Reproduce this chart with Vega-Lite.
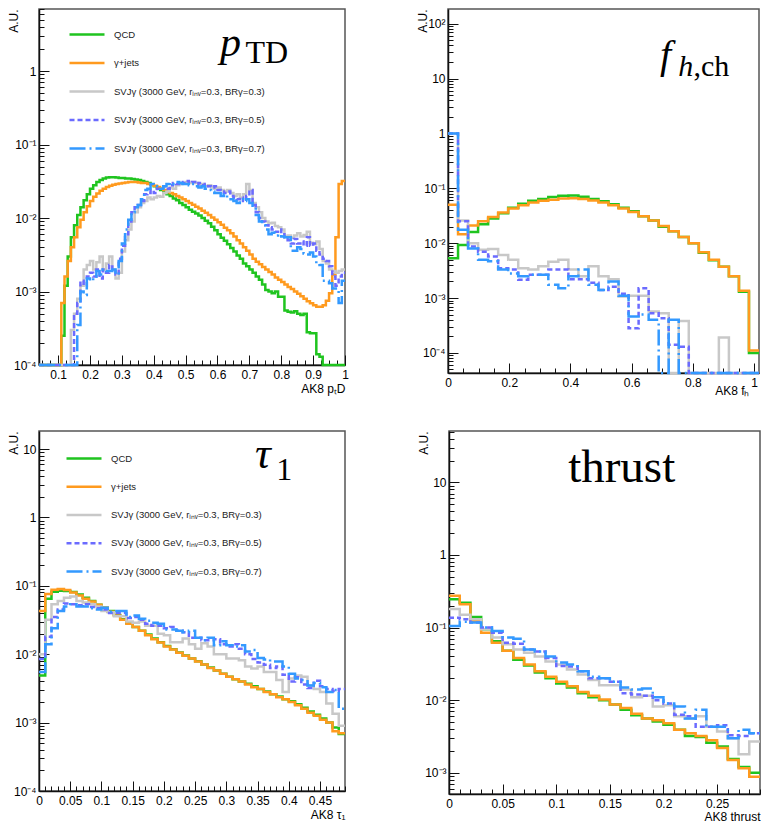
{
"$schema": "https://vega.github.io/schema/vega-lite/v6.json",
"padding": {"left": 6, "top": 2, "right": 0, "bottom": 0},
"background": "white",
"config": {
  "view": {"stroke": "#555", "strokeWidth": 1.5},
  "axis": {"grid": false, "labelFont": "Liberation Sans", "labelFontSize": 12, "labelColor": "#000", "titleFont": "Liberation Sans", "titleFontSize": 12, "titleFontWeight": "normal", "titleColor": "#000", "domainColor": "#111", "domainWidth": 1.5, "tickColor": "#111", "tickWidth": 1, "labelFlush": false, "labelOverlap": false, "labelBound": false},
  "axisX": {"titleAnchor": "end", "titleAlign": "right", "titlePadding": 1, "labelPadding": 14},
  "axisY": {"titleX": -26, "titleY": 0, "titleAlign": "right", "titleAngle": -90, "titleBaseline": "middle", "labelPadding": 13}
},
"datasets": {
"ptd": [
{"x":0.04,"a":0.0001,"b":0.0001,"c":0.0001,"d":0.0001,"e":0.0001},
{"x":0.05,"a":0.0001,"b":0.0001,"c":0.0001,"d":0.0001,"e":0.0001},
{"x":0.06,"a":0.0001,"b":0.0001,"c":0.0001,"d":0.0001,"e":0.0001},
{"x":0.07,"a":0.0001,"b":0.0001,"c":0.0001,"d":0.0001,"e":0.0001},
{"x":0.08,"a":0.0001,"b":0.0001,"c":0.0001,"d":0.0001,"e":0.0001},
{"x":0.09,"a":0.0001,"b":0.0001,"c":0.0001,"d":0.0001,"e":0.0001},
{"x":0.10,"a":0.0001,"b":0.0001,"c":0.0001,"d":0.0001,"e":0.0001},
{"x":0.11,"a":0.00025,"b":0.0007,"c":0.0001,"d":0.0001,"e":0.0001},
{"x":0.12,"a":0.0012,"b":0.0016,"c":0.0001,"d":0.0001,"e":0.0001},
{"x":0.13,"a":0.003,"b":0.0026,"c":0.0001,"d":0.0001,"e":0.0001},
{"x":0.14,"a":0.0055,"b":0.004,"c":0.0003,"d":0.0001,"e":0.0001},
{"x":0.15,"a":0.008,"b":0.0055,"c":0.0005,"d":0.0005,"e":0.0001},
{"x":0.16,"a":0.011,"b":0.0075,"c":0.0008,"d":0.0007,"e":0.00035},
{"x":0.17,"a":0.014,"b":0.0095,"c":0.0012,"d":0.0014,"e":0.001},
{"x":0.18,"a":0.0175,"b":0.012,"c":0.002,"d":0.0012,"e":0.0009},
{"x":0.19,"a":0.021,"b":0.0145,"c":0.0023,"d":0.0016,"e":0.0015},
{"x":0.20,"a":0.025,"b":0.017,"c":0.0026,"d":0.0018,"e":0.0014},
{"x":0.21,"a":0.028,"b":0.0195,"c":0.002,"d":0.0016,"e":0.0016},
{"x":0.22,"a":0.031,"b":0.0215,"c":0.0025,"d":0.002,"e":0.0019},
{"x":0.23,"a":0.033,"b":0.0235,"c":0.003,"d":0.0015,"e":0.0017},
{"x":0.24,"a":0.0345,"b":0.025,"c":0.002,"d":0.002,"e":0.002},
{"x":0.25,"a":0.0355,"b":0.0265,"c":0.0024,"d":0.0018,"e":0.0019},
{"x":0.26,"a":0.036,"b":0.0275,"c":0.003,"d":0.0023,"e":0.0019},
{"x":0.27,"a":0.036,"b":0.0285,"c":0.002,"d":0.0019,"e":0.002},
{"x":0.28,"a":0.0355,"b":0.029,"c":0.0015,"d":0.0017,"e":0.0017},
{"x":0.29,"a":0.035,"b":0.0295,"c":0.0018,"d":0.0028,"e":0.0026},
{"x":0.30,"a":0.035,"b":0.03,"c":0.0035,"d":0.0042,"e":0.0045},
{"x":0.31,"a":0.0345,"b":0.0305,"c":0.005,"d":0.006,"e":0.007},
{"x":0.32,"a":0.0345,"b":0.031,"c":0.007,"d":0.009,"e":0.0095},
{"x":0.33,"a":0.034,"b":0.031,"c":0.009,"d":0.012,"e":0.012},
{"x":0.34,"a":0.0335,"b":0.031,"c":0.012,"d":0.014,"e":0.014},
{"x":0.35,"a":0.033,"b":0.0305,"c":0.014,"d":0.015,"e":0.015},
{"x":0.36,"a":0.032,"b":0.03,"c":0.016,"d":0.017,"e":0.018},
{"x":0.37,"a":0.031,"b":0.03,"c":0.017,"d":0.021,"e":0.024},
{"x":0.38,"a":0.03,"b":0.029,"c":0.019,"d":0.022,"e":0.025},
{"x":0.39,"a":0.0285,"b":0.0285,"c":0.018,"d":0.024,"e":0.029},
{"x":0.40,"a":0.027,"b":0.0275,"c":0.019,"d":0.022,"e":0.027},
{"x":0.41,"a":0.0255,"b":0.0265,"c":0.02,"d":0.025,"e":0.026},
{"x":0.42,"a":0.024,"b":0.025,"c":0.0195,"d":0.026,"e":0.025},
{"x":0.43,"a":0.0225,"b":0.024,"c":0.022,"d":0.027,"e":0.027},
{"x":0.44,"a":0.021,"b":0.023,"c":0.023,"d":0.025,"e":0.029},
{"x":0.45,"a":0.02,"b":0.022,"c":0.026,"d":0.028,"e":0.03},
{"x":0.46,"a":0.0185,"b":0.021,"c":0.025,"d":0.03,"e":0.029},
{"x":0.47,"a":0.0175,"b":0.02,"c":0.028,"d":0.029,"e":0.031},
{"x":0.48,"a":0.016,"b":0.019,"c":0.029,"d":0.031,"e":0.03},
{"x":0.49,"a":0.015,"b":0.018,"c":0.03,"d":0.03,"e":0.029},
{"x":0.50,"a":0.014,"b":0.017,"c":0.031,"d":0.032,"e":0.029},
{"x":0.51,"a":0.013,"b":0.016,"c":0.03,"d":0.03,"e":0.028},
{"x":0.52,"a":0.0122,"b":0.0152,"c":0.031,"d":0.031,"e":0.029},
{"x":0.53,"a":0.0115,"b":0.0143,"c":0.03,"d":0.029,"e":0.027},
{"x":0.54,"a":0.0108,"b":0.0135,"c":0.028,"d":0.03,"e":0.026},
{"x":0.55,"a":0.01,"b":0.0126,"c":0.029,"d":0.028,"e":0.027},
{"x":0.56,"a":0.0092,"b":0.0118,"c":0.027,"d":0.029,"e":0.025},
{"x":0.57,"a":0.0085,"b":0.011,"c":0.028,"d":0.027,"e":0.024},
{"x":0.58,"a":0.0076,"b":0.0102,"c":0.026,"d":0.026,"e":0.023},
{"x":0.59,"a":0.0068,"b":0.0095,"c":0.025,"d":0.027,"e":0.022},
{"x":0.60,"a":0.006,"b":0.0088,"c":0.026,"d":0.024,"e":0.022},
{"x":0.61,"a":0.0054,"b":0.0081,"c":0.024,"d":0.023,"e":0.02},
{"x":0.62,"a":0.0049,"b":0.0074,"c":0.023,"d":0.022,"e":0.021},
{"x":0.63,"a":0.0044,"b":0.0068,"c":0.024,"d":0.023,"e":0.018},
{"x":0.64,"a":0.0039,"b":0.0062,"c":0.022,"d":0.02,"e":0.018},
{"x":0.65,"a":0.0035,"b":0.0056,"c":0.02,"d":0.019,"e":0.017},
{"x":0.66,"a":0.0031,"b":0.005,"c":0.021,"d":0.018,"e":0.016},
{"x":0.67,"a":0.0028,"b":0.0045,"c":0.019,"d":0.019,"e":0.018},
{"x":0.68,"a":0.0024,"b":0.004,"c":0.021,"d":0.017,"e":0.017},
{"x":0.69,"a":0.0022,"b":0.0036,"c":0.029,"d":0.02,"e":0.018},
{"x":0.70,"a":0.002,"b":0.0032,"c":0.024,"d":0.024,"e":0.016},
{"x":0.71,"a":0.0018,"b":0.0028,"c":0.016,"d":0.015,"e":0.014},
{"x":0.72,"a":0.0016,"b":0.00255,"c":0.014,"d":0.012,"e":0.011},
{"x":0.73,"a":0.00145,"b":0.00235,"c":0.012,"d":0.01,"e":0.009},
{"x":0.74,"a":0.00125,"b":0.00215,"c":0.01,"d":0.009,"e":0.008},
{"x":0.75,"a":0.00105,"b":0.002,"c":0.009,"d":0.008,"e":0.007},
{"x":0.76,"a":0.001,"b":0.00185,"c":0.0085,"d":0.0075,"e":0.006},
{"x":0.77,"a":0.00095,"b":0.0017,"c":0.0086,"d":0.007,"e":0.0063},
{"x":0.78,"a":0.001,"b":0.00155,"c":0.0078,"d":0.0065,"e":0.0058},
{"x":0.79,"a":0.00085,"b":0.00145,"c":0.0075,"d":0.007,"e":0.006},
{"x":0.80,"a":0.00085,"b":0.00135,"c":0.007,"d":0.006,"e":0.0056},
{"x":0.81,"a":0.00055,"b":0.00125,"c":0.0056,"d":0.0055,"e":0.0055},
{"x":0.82,"a":0.00053,"b":0.00115,"c":0.0058,"d":0.005,"e":0.0055},
{"x":0.83,"a":0.00052,"b":0.00108,"c":0.0054,"d":0.0045,"e":0.0036},
{"x":0.84,"a":0.00054,"b":0.001,"c":0.0058,"d":0.0052,"e":0.0036},
{"x":0.85,"a":0.0005,"b":0.00093,"c":0.0062,"d":0.0045,"e":0.004},
{"x":0.86,"a":0.00048,"b":0.00086,"c":0.0056,"d":0.0048,"e":0.0038},
{"x":0.87,"a":0.0005,"b":0.0008,"c":0.0059,"d":0.0042,"e":0.0033},
{"x":0.88,"a":0.00028,"b":0.00074,"c":0.0065,"d":0.0055,"e":0.0032},
{"x":0.89,"a":0.00027,"b":0.00069,"c":0.0046,"d":0.0042,"e":0.0034},
{"x":0.90,"a":0.00027,"b":0.00065,"c":0.0044,"d":0.0045,"e":0.003},
{"x":0.91,"a":0.00014,"b":0.00062,"c":0.0048,"d":0.0036,"e":0.0024},
{"x":0.92,"a":0.00013,"b":0.00062,"c":0.0038,"d":0.0032,"e":0.0023},
{"x":0.93,"a":0.0001,"b":0.00065,"c":0.0026,"d":0.0028,"e":0.0014},
{"x":0.94,"a":0.0001,"b":0.00075,"c":0.0024,"d":0.0026,"e":0.0014},
{"x":0.95,"a":0.0001,"b":0.00095,"c":0.002,"d":0.0022,"e":0.0013},
{"x":0.96,"a":0.0001,"b":0.0017,"c":0.0019,"d":0.0016,"e":0.0011},
{"x":0.97,"a":0.0001,"b":0.0055,"c":0.0018,"d":0.0012,"e":0.0011},
{"x":0.98,"a":0.0001,"b":0.029,"c":0.0019,"d":0.0016,"e":0.0007},
{"x":0.99,"a":0.0001,"b":0.032,"c":0.002,"d":0.0018,"e":0.0014},
{"x":1.00,"a":0.0001,"b":0.032,"c":0.002,"d":0.0018,"e":0.0014}
],
"fh": [
{"x":0,"a":0.0053,"b":0.05,"c":1,"d":1,"e":1},
{"x":0.0328,"a":0.0093,"b":0.0145,"c":0.026,"d":0.025,"e":0.0175},
{"x":0.0655,"a":0.016,"b":0.021,"c":0.01,"d":0.0087,"e":0.008},
{"x":0.0983,"a":0.022,"b":0.025,"c":0.0076,"d":0.007,"e":0.005},
{"x":0.1311,"a":0.028,"b":0.03,"c":0.0078,"d":0.0057,"e":0.0047},
{"x":0.1639,"a":0.035,"b":0.036,"c":0.0061,"d":0.0035,"e":0.0033},
{"x":0.1966,"a":0.044,"b":0.043,"c":0.005,"d":0.0033,"e":0.0028},
{"x":0.2294,"a":0.052,"b":0.049,"c":0.0035,"d":0.00215,"e":0.0025},
{"x":0.2622,"a":0.059,"b":0.055,"c":0.0033,"d":0.00265,"e":0.00265},
{"x":0.2950,"a":0.064,"b":0.059,"c":0.0038,"d":0.00265,"e":0.00265},
{"x":0.3277,"a":0.069,"b":0.062,"c":0.0046,"d":0.0033,"e":0.00175},
{"x":0.3605,"a":0.073,"b":0.065,"c":0.005,"d":0.0033,"e":0.0015},
{"x":0.3933,"a":0.074,"b":0.066,"c":0.0033,"d":0.0022,"e":0.0025},
{"x":0.4261,"a":0.07,"b":0.064,"c":0.0025,"d":0.0022,"e":0.0033},
{"x":0.4588,"a":0.064,"b":0.06,"c":0.0038,"d":0.0019,"e":0.00175},
{"x":0.4916,"a":0.058,"b":0.055,"c":0.0025,"d":0.0014,"e":0.0014},
{"x":0.5244,"a":0.051,"b":0.049,"c":0.0022,"d":0.0016,"e":0.002},
{"x":0.5572,"a":0.044,"b":0.043,"c":0.00107,"d":0.0012,"e":0.0011},
{"x":0.5899,"a":0.038,"b":0.037,"c":0.0011,"d":0.00028,"e":0.00046},
{"x":0.6227,"a":0.031,"b":0.031,"c":0.0011,"d":0.0015,"e":0.0005},
{"x":0.6555,"a":0.026,"b":0.026,"c":0.00057,"d":0.00053,"e":0.0004},
{"x":0.6883,"a":0.02,"b":0.0205,"c":0.00053,"d":0.00043,"e":0.000043},
{"x":0.7210,"a":0.0165,"b":0.0165,"c":0.000043,"d":0.00014,"e":0.0004},
{"x":0.7538,"a":0.013,"b":0.013,"c":0.00038,"d":0.00013,"e":0.000043},
{"x":0.7866,"a":0.01,"b":0.01,"c":0.000043,"d":0.000043,"e":0.000043},
{"x":0.8194,"a":0.0067,"b":0.0068,"c":0.000043,"d":0.000043,"e":0.000043},
{"x":0.8521,"a":0.0049,"b":0.005,"c":0.000043,"d":0.000043,"e":0.000043},
{"x":0.8849,"a":0.0037,"b":0.0037,"c":0.00019,"d":0.000043,"e":0.000043},
{"x":0.9177,"a":0.0025,"b":0.0025,"c":0.000043,"d":0.000043,"e":0.000043},
{"x":0.9505,"a":0.0013,"b":0.00135,"c":0.000043,"d":0.000043,"e":0.000043},
{"x":0.9832,"a":0.0001,"b":0.00011,"c":0.000043,"d":0.000043,"e":0.000043},
{"x":1.016,"a":0.0001,"b":0.00011,"c":0.000043,"d":0.000043,"e":0.000043}
],
"tau": [
{"x":0.00,"a":0.0049,"b":0.043,"c":0.01,"d":0.0085,"e":0.0055},
{"x":0.01,"a":0.065,"b":0.076,"c":0.032,"d":0.018,"e":0.014},
{"x":0.02,"a":0.082,"b":0.088,"c":0.054,"d":0.035,"e":0.024},
{"x":0.03,"a":0.085,"b":0.09,"c":0.06,"d":0.045,"e":0.043},
{"x":0.04,"a":0.084,"b":0.087,"c":0.067,"d":0.055,"e":0.05},
{"x":0.05,"a":0.081,"b":0.08,"c":0.07,"d":0.054,"e":0.054},
{"x":0.06,"a":0.075,"b":0.072,"c":0.06,"d":0.052,"e":0.05},
{"x":0.07,"a":0.067,"b":0.065,"c":0.057,"d":0.054,"e":0.05},
{"x":0.08,"a":0.06,"b":0.059,"c":0.054,"d":0.049,"e":0.047},
{"x":0.09,"a":0.053,"b":0.053,"c":0.05,"d":0.047,"e":0.045},
{"x":0.10,"a":0.048,"b":0.048,"c":0.043,"d":0.045,"e":0.048},
{"x":0.11,"a":0.043,"b":0.042,"c":0.041,"d":0.04,"e":0.042},
{"x":0.12,"a":0.0375,"b":0.037,"c":0.036,"d":0.04,"e":0.043},
{"x":0.13,"a":0.0325,"b":0.032,"c":0.036,"d":0.04,"e":0.043},
{"x":0.14,"a":0.0285,"b":0.028,"c":0.03,"d":0.034,"e":0.035},
{"x":0.15,"a":0.025,"b":0.025,"c":0.029,"d":0.035,"e":0.037},
{"x":0.16,"a":0.022,"b":0.022,"c":0.03,"d":0.032,"e":0.033},
{"x":0.17,"a":0.0195,"b":0.019,"c":0.026,"d":0.028,"e":0.031},
{"x":0.18,"a":0.017,"b":0.0166,"c":0.026,"d":0.026,"e":0.029},
{"x":0.19,"a":0.015,"b":0.0148,"c":0.02,"d":0.026,"e":0.028},
{"x":0.20,"a":0.0132,"b":0.013,"c":0.019,"d":0.024,"e":0.023},
{"x":0.21,"a":0.0118,"b":0.0117,"c":0.015,"d":0.025,"e":0.023},
{"x":0.22,"a":0.0106,"b":0.0105,"c":0.015,"d":0.022,"e":0.022},
{"x":0.23,"a":0.0096,"b":0.0095,"c":0.017,"d":0.021,"e":0.021},
{"x":0.24,"a":0.0087,"b":0.0087,"c":0.014,"d":0.0175,"e":0.022},
{"x":0.25,"a":0.0079,"b":0.0078,"c":0.012,"d":0.0175,"e":0.0175},
{"x":0.26,"a":0.0071,"b":0.0071,"c":0.0145,"d":0.016,"e":0.016},
{"x":0.27,"a":0.0064,"b":0.0063,"c":0.013,"d":0.016,"e":0.0175},
{"x":0.28,"a":0.0058,"b":0.0058,"c":0.01,"d":0.0165,"e":0.0135},
{"x":0.29,"a":0.0052,"b":0.0052,"c":0.01,"d":0.014,"e":0.0155},
{"x":0.30,"a":0.0047,"b":0.0047,"c":0.0087,"d":0.013,"e":0.0135},
{"x":0.31,"a":0.0043,"b":0.0043,"c":0.0087,"d":0.014,"e":0.013},
{"x":0.32,"a":0.004,"b":0.004,"c":0.0082,"d":0.012,"e":0.0135},
{"x":0.33,"a":0.0037,"b":0.0036,"c":0.0066,"d":0.01,"e":0.011},
{"x":0.34,"a":0.0034,"b":0.0033,"c":0.0062,"d":0.0085,"e":0.0115},
{"x":0.35,"a":0.0031,"b":0.0031,"c":0.0066,"d":0.0076,"e":0.0088},
{"x":0.36,"a":0.00285,"b":0.0028,"c":0.0055,"d":0.007,"e":0.0084},
{"x":0.37,"a":0.0026,"b":0.0026,"c":0.0055,"d":0.0063,"e":0.0078},
{"x":0.38,"a":0.0024,"b":0.00235,"c":0.0042,"d":0.0066,"e":0.0078},
{"x":0.39,"a":0.0022,"b":0.0022,"c":0.0028,"d":0.005,"e":0.0066},
{"x":0.40,"a":0.00205,"b":0.002,"c":0.0044,"d":0.004,"e":0.0052},
{"x":0.41,"a":0.00185,"b":0.0018,"c":0.0049,"d":0.0046,"e":0.0044},
{"x":0.42,"a":0.00165,"b":0.0016,"c":0.0047,"d":0.0036,"e":0.0042},
{"x":0.43,"a":0.00145,"b":0.0014,"c":0.0035,"d":0.0032,"e":0.0035},
{"x":0.44,"a":0.0013,"b":0.00126,"c":0.0031,"d":0.0041,"e":0.0038},
{"x":0.45,"a":0.00115,"b":0.0011,"c":0.0028,"d":0.0034,"e":0.0033},
{"x":0.46,"a":0.001,"b":0.001,"c":0.0019,"d":0.0031,"e":0.0028},
{"x":0.47,"a":0.00085,"b":0.00075,"c":0.00135,"d":0.0029,"e":0.003},
{"x":0.48,"a":0.00068,"b":0.0007,"c":0.0009,"d":0.0031,"e":0.0016},
{"x":0.49,"a":0.00068,"b":0.0007,"c":0.0009,"d":0.0031,"e":0.0016}
],
"thr": [
{"x":0.00,"a":0.245,"b":0.275,"c":0.18,"d":0.137,"e":0.105},
{"x":0.01,"a":0.22,"b":0.21,"c":0.15,"d":0.13,"e":0.12},
{"x":0.02,"a":0.14,"b":0.124,"c":0.13,"d":0.117,"e":0.117},
{"x":0.03,"a":0.095,"b":0.085,"c":0.095,"d":0.1,"e":0.1},
{"x":0.04,"a":0.065,"b":0.062,"c":0.073,"d":0.085,"e":0.09},
{"x":0.05,"a":0.048,"b":0.048,"c":0.059,"d":0.062,"e":0.073},
{"x":0.06,"a":0.036,"b":0.038,"c":0.05,"d":0.06,"e":0.07},
{"x":0.07,"a":0.03,"b":0.031,"c":0.045,"d":0.05,"e":0.05},
{"x":0.08,"a":0.024,"b":0.025,"c":0.04,"d":0.047,"e":0.047},
{"x":0.09,"a":0.02,"b":0.021,"c":0.034,"d":0.038,"e":0.04},
{"x":0.10,"a":0.017,"b":0.018,"c":0.031,"d":0.0295,"e":0.033},
{"x":0.11,"a":0.015,"b":0.0155,"c":0.0265,"d":0.029,"e":0.031},
{"x":0.12,"a":0.0125,"b":0.013,"c":0.0225,"d":0.025,"e":0.025},
{"x":0.13,"a":0.011,"b":0.0115,"c":0.019,"d":0.02,"e":0.021},
{"x":0.14,"a":0.01,"b":0.0102,"c":0.016,"d":0.02,"e":0.02},
{"x":0.15,"a":0.0087,"b":0.0087,"c":0.016,"d":0.018,"e":0.018},
{"x":0.16,"a":0.0074,"b":0.0078,"c":0.014,"d":0.0125,"e":0.015},
{"x":0.17,"a":0.0062,"b":0.0065,"c":0.011,"d":0.012,"e":0.014},
{"x":0.18,"a":0.0056,"b":0.0056,"c":0.0115,"d":0.0115,"e":0.0145},
{"x":0.19,"a":0.0051,"b":0.0053,"c":0.0082,"d":0.01,"e":0.011},
{"x":0.20,"a":0.0046,"b":0.0048,"c":0.0085,"d":0.009,"e":0.009},
{"x":0.21,"a":0.0039,"b":0.0039,"c":0.006,"d":0.0063,"e":0.0082},
{"x":0.22,"a":0.0032,"b":0.0035,"c":0.0056,"d":0.006,"e":0.0056},
{"x":0.23,"a":0.0031,"b":0.0032,"c":0.006,"d":0.0043,"e":0.0074},
{"x":0.24,"a":0.0026,"b":0.0028,"c":0.0043,"d":0.0043,"e":0.0043},
{"x":0.25,"a":0.0023,"b":0.0022,"c":0.0037,"d":0.0045,"e":0.0043},
{"x":0.26,"a":0.00155,"b":0.0015,"c":0.003,"d":0.0033,"e":0.003},
{"x":0.27,"a":0.0012,"b":0.00115,"c":0.0018,"d":0.0032,"e":0.0039},
{"x":0.28,"a":0.001,"b":0.00088,"c":0.0027,"d":0.0035,"e":0.0035},
{"x":0.29,"a":0.001,"b":0.00088,"c":0.0027,"d":0.0035,"e":0.0035}
]
},
"spacing": 27,
"resolve": {"scale": {"color": "independent", "strokeDash": "independent"}, "legend": {"color": "independent", "strokeDash": "independent"}},
"vconcat": [
{
"hconcat": [
{
"width": 306, "height": 356,
"encoding": {
  "x": {"field": "x", "type": "quantitative", "scale": {"domain": [0.04, 1], "nice": false, "zero": false},
    "axis": {"values": [0.05,0.075,0.1,0.125,0.15,0.175,0.2,0.225,0.25,0.275,0.3,0.325,0.35,0.375,0.4,0.425,0.45,0.475,0.5,0.525,0.55,0.575,0.6,0.625,0.65,0.675,0.7,0.725,0.75,0.775,0.8,0.825,0.85,0.875,0.9,0.925,0.95,0.975,1],
      "labelExpr": "abs(datum.value*10-round(datum.value*10))<0.001 ? format(datum.value,'~g') : ''",
      "tickSize": {"condition": {"test": "abs(datum.value*10-round(datum.value*10))<0.001", "value": -10}, "value": -5},
      "title": "AK8 pₜD", "titlePadding": -2}},
  "y": {"field": "val", "type": "quantitative", "scale": {"type": "log", "domain": [0.0001, 7], "nice": false},
    "axis": {"tickCount": 20,
      "labelExpr": "abs(log(datum.value)/LN10-round(log(datum.value)/LN10))>0.001 ? '' : round(log(datum.value)/LN10)==0 ? '1' : round(log(datum.value)/LN10)==1 ? '10' : round(log(datum.value)/LN10)==2 ? '10²' : round(log(datum.value)/LN10)==-1 ? '10⁻¹' : round(log(datum.value)/LN10)==-2 ? '10⁻²' : round(log(datum.value)/LN10)==-3 ? '10⁻³' : '10⁻⁴'",
      "tickSize": {"condition": {"test": "abs(log(datum.value)/LN10-round(log(datum.value)/LN10))<0.001", "value": -10}, "value": -5},
      "title": "A.U."}}
},
"layer": [
{"data": {"name": "ptd"}, "transform": [{"fold": ["a","b","c","d","e"], "as": ["key","val"]}],
 "mark": {"type": "line", "interpolate": "step-after", "strokeWidth": 2.5, "clip": false},
 "encoding": {
   "color": {"field": "key", "type": "nominal", "scale": {"domain": ["a","b","c","d","e"], "range": ["#1fc41f","#ff9a1e","#c8c8c8","#6b6bff","#3399ff"]},
     "legend": {"orient": "none", "legendX": 29, "legendY": 6.5, "title": null, "padding": 0, "symbolType": "stroke", "symbolSize": 1225, "symbolStrokeWidth": 2.5, "rowPadding": 4.5, "labelOffset": 8, "labelFont": "Liberation Sans", "labelFontSize": 9.5, "labelColor": "#222",
       "labelExpr": "datum.value=='a'?'QCD':datum.value=='b'?'γ+jets':datum.value=='c'?'SVJγ (3000 GeV, rᵢₙᵥ=0.3, BRγ=0.3)':datum.value=='d'?'SVJγ (3000 GeV, rᵢₙᵥ=0.3, BRγ=0.5)':'SVJγ (3000 GeV, rᵢₙᵥ=0.3, BRγ=0.7)'"}},
   "strokeDash": {"field": "key", "type": "nominal", "scale": {"domain": ["a","b","c","d","e"], "range": [[1,0],[1,0],[1,0],[5,3],[16,4,2,4]]},
     "legend": {"orient": "none", "legendX": 29, "legendY": 6.5, "title": null, "padding": 0, "symbolType": "stroke", "symbolSize": 1225, "symbolStrokeWidth": 2.5, "rowPadding": 4.5, "labelOffset": 8, "labelFont": "Liberation Sans", "labelFontSize": 9.5, "labelColor": "#222",
       "labelExpr": "datum.value=='a'?'QCD':datum.value=='b'?'γ+jets':datum.value=='c'?'SVJγ (3000 GeV, rᵢₙᵥ=0.3, BRγ=0.3)':datum.value=='d'?'SVJγ (3000 GeV, rᵢₙᵥ=0.3, BRγ=0.5)':'SVJγ (3000 GeV, rᵢₙᵥ=0.3, BRγ=0.7)'"}}
 }},
{"data": {"values": [{"x": 0.608, "val": 1.61, "t": "p"}]},
 "mark": {"type": "text", "font": "Liberation Serif", "fontStyle": "italic", "fontSize": 42, "align": "left", "baseline": "alphabetic", "color": "#000"},
 "encoding": {"text": {"field": "t"}}},
{"data": {"values": [{"x": 0.688, "val": 1.27, "t": "TD"}]},
 "mark": {"type": "text", "font": "Liberation Serif", "fontSize": 32, "align": "left", "baseline": "alphabetic", "color": "#000"},
 "encoding": {"text": {"field": "t"}}}
]
},
{
"width": 311, "height": 364,
"encoding": {
  "x": {"field": "x", "type": "quantitative", "scale": {"domain": [0, 1.016], "nice": false, "zero": false},
    "axis": {"values": [0,0.05,0.1,0.15,0.2,0.25,0.3,0.35,0.4,0.45,0.5,0.55,0.6,0.65,0.7,0.75,0.8,0.85,0.9,0.95,1],
      "labelExpr": "abs(datum.value*5-round(datum.value*5))<0.001 ? format(datum.value,'~g') : ''",
      "tickSize": {"condition": {"test": "abs(datum.value*5-round(datum.value*5))<0.001", "value": -10}, "value": -5},
      "title": "AK8 fₕ", "titleX": 301, "titlePadding": -8}},
  "y": {"field": "val", "type": "quantitative", "scale": {"type": "log", "domain": [0.000043, 185], "nice": false},
    "axis": {"tickCount": 20,
      "labelExpr": "abs(log(datum.value)/LN10-round(log(datum.value)/LN10))>0.001 ? '' : round(log(datum.value)/LN10)==0 ? '1' : round(log(datum.value)/LN10)==1 ? '10' : round(log(datum.value)/LN10)==2 ? '10²' : round(log(datum.value)/LN10)==-1 ? '10⁻¹' : round(log(datum.value)/LN10)==-2 ? '10⁻²' : round(log(datum.value)/LN10)==-3 ? '10⁻³' : '10⁻⁴'",
      "tickSize": {"condition": {"test": "abs(log(datum.value)/LN10-round(log(datum.value)/LN10))<0.001", "value": -10}, "value": -5},
      "title": "A.U."}}
},
"layer": [
{"data": {"name": "fh"}, "transform": [{"fold": ["a","b","c","d","e"], "as": ["key","val"]}],
 "mark": {"type": "line", "interpolate": "step-after", "strokeWidth": 2.5, "clip": false},
 "encoding": {
   "color": {"field": "key", "type": "nominal", "scale": {"domain": ["a","b","c","d","e"], "range": ["#1fc41f","#ff9a1e","#c8c8c8","#6b6bff","#3399ff"]}, "legend": null},
   "strokeDash": {"field": "key", "type": "nominal", "scale": {"domain": ["a","b","c","d","e"], "range": [[1,0],[1,0],[1,0],[5,3],[16,4,2,4]]}, "legend": null}
 }},
{"data": {"values": [{"x": 0.6926, "val": 15.8, "t": "f"}]},
 "mark": {"type": "text", "font": "Liberation Serif", "fontStyle": "italic", "fontSize": 40, "align": "left", "baseline": "alphabetic", "color": "#000"},
 "encoding": {"text": {"field": "t"}}},
{"data": {"values": [{"x": 0.752, "val": 11.3, "t": "h"}]},
 "mark": {"type": "text", "font": "Liberation Serif", "fontStyle": "italic", "fontSize": 30, "align": "left", "baseline": "alphabetic", "color": "#000"},
 "encoding": {"text": {"field": "t"}}},
{"data": {"values": [{"x": 0.802, "val": 11.3, "t": ",ch"}]},
 "mark": {"type": "text", "font": "Liberation Serif", "fontSize": 30, "align": "left", "baseline": "alphabetic", "color": "#000"},
 "encoding": {"text": {"field": "t"}}}
]
}
],
"spacing": 103, "bounds": "flush",
"resolve": {"scale": {"color": "independent", "strokeDash": "independent"}, "legend": {"color": "independent", "strokeDash": "independent"}}
},
{
"hconcat": [
{
"width": 306, "height": 360,
"encoding": {
  "x": {"field": "x", "type": "quantitative", "scale": {"domain": [0, 0.49], "nice": false, "zero": false},
    "axis": {"values": [0,0.01,0.02,0.03,0.04,0.05,0.06,0.07,0.08,0.09,0.1,0.11,0.12,0.13,0.14,0.15,0.16,0.17,0.18,0.19,0.2,0.21,0.22,0.23,0.24,0.25,0.26,0.27,0.28,0.29,0.3,0.31,0.32,0.33,0.34,0.35,0.36,0.37,0.38,0.39,0.4,0.41,0.42,0.43,0.44,0.45,0.46,0.47,0.48,0.49],
      "labelExpr": "abs(datum.value*20-round(datum.value*20))<0.001 ? format(datum.value,'~g') : ''",
      "tickSize": {"condition": {"test": "abs(datum.value*20-round(datum.value*20))<0.001", "value": -10}, "value": -5},
      "title": "AK8 τ₁", "titlePadding": -2}},
  "y": {"field": "val", "type": "quantitative", "scale": {"type": "log", "domain": [0.0001, 18.4], "nice": false},
    "axis": {"tickCount": 20,
      "labelExpr": "abs(log(datum.value)/LN10-round(log(datum.value)/LN10))>0.001 ? '' : round(log(datum.value)/LN10)==0 ? '1' : round(log(datum.value)/LN10)==1 ? '10' : round(log(datum.value)/LN10)==2 ? '10²' : round(log(datum.value)/LN10)==-1 ? '10⁻¹' : round(log(datum.value)/LN10)==-2 ? '10⁻²' : round(log(datum.value)/LN10)==-3 ? '10⁻³' : '10⁻⁴'",
      "tickSize": {"condition": {"test": "abs(log(datum.value)/LN10-round(log(datum.value)/LN10))<0.001", "value": -10}, "value": -5},
      "title": "A.U."}}
},
"layer": [
{"data": {"name": "tau"}, "transform": [{"fold": ["a","b","c","d","e"], "as": ["key","val"]}],
 "mark": {"type": "line", "interpolate": "step-after", "strokeWidth": 2.5, "clip": false},
 "encoding": {
   "color": {"field": "key", "type": "nominal", "scale": {"domain": ["a","b","c","d","e"], "range": ["#1fc41f","#ff9a1e","#c8c8c8","#6b6bff","#3399ff"]},
     "legend": {"orient": "none", "legendX": 26, "legendY": 8.5, "title": null, "padding": 0, "symbolType": "stroke", "symbolSize": 1225, "symbolStrokeWidth": 2.5, "rowPadding": 4.25, "labelOffset": 8, "labelFont": "Liberation Sans", "labelFontSize": 9.5, "labelColor": "#222",
       "labelExpr": "datum.value=='a'?'QCD':datum.value=='b'?'γ+jets':datum.value=='c'?'SVJγ (3000 GeV, rᵢₙᵥ=0.3, BRγ=0.3)':datum.value=='d'?'SVJγ (3000 GeV, rᵢₙᵥ=0.3, BRγ=0.5)':'SVJγ (3000 GeV, rᵢₙᵥ=0.3, BRγ=0.7)'"}},
   "strokeDash": {"field": "key", "type": "nominal", "scale": {"domain": ["a","b","c","d","e"], "range": [[1,0],[1,0],[1,0],[5,3],[16,4,2,4]]},
     "legend": {"orient": "none", "legendX": 26, "legendY": 8.5, "title": null, "padding": 0, "symbolType": "stroke", "symbolSize": 1225, "symbolStrokeWidth": 2.5, "rowPadding": 4.25, "labelOffset": 8, "labelFont": "Liberation Sans", "labelFontSize": 9.5, "labelColor": "#222",
       "labelExpr": "datum.value=='a'?'QCD':datum.value=='b'?'γ+jets':datum.value=='c'?'SVJγ (3000 GeV, rᵢₙᵥ=0.3, BRγ=0.3)':datum.value=='d'?'SVJγ (3000 GeV, rᵢₙᵥ=0.3, BRγ=0.5)':'SVJγ (3000 GeV, rᵢₙᵥ=0.3, BRγ=0.7)'"}}
 }},
{"data": {"values": [{"x": 0.346, "val": 5.27, "t": "τ"}]},
 "mark": {"type": "text", "font": "Liberation Serif", "fontStyle": "italic", "fontSize": 44, "align": "left", "baseline": "alphabetic", "color": "#000"},
 "encoding": {"text": {"field": "t"}}},
{"data": {"values": [{"x": 0.38, "val": 3.52, "t": "1"}]},
 "mark": {"type": "text", "font": "Liberation Serif", "fontSize": 32, "align": "left", "baseline": "alphabetic", "color": "#000"},
 "encoding": {"text": {"field": "t"}}}
]
},
{
"width": 311, "height": 363,
"encoding": {
  "x": {"field": "x", "type": "quantitative", "scale": {"domain": [0, 0.29], "nice": false, "zero": false},
    "axis": {"values": [0,0.01,0.02,0.03,0.04,0.05,0.06,0.07,0.08,0.09,0.1,0.11,0.12,0.13,0.14,0.15,0.16,0.17,0.18,0.19,0.2,0.21,0.22,0.23,0.24,0.25,0.26,0.27,0.28,0.29],
      "labelExpr": "abs(datum.value*20-round(datum.value*20))<0.001 ? format(datum.value,'~g') : ''",
      "tickSize": {"condition": {"test": "abs(datum.value*20-round(datum.value*20))<0.001", "value": -10}, "value": -5},
      "title": "AK8 thrust", "titlePadding": -3}},
  "y": {"field": "val", "type": "quantitative", "scale": {"type": "log", "domain": [0.00051, 51], "nice": false},
    "axis": {"tickCount": 20,
      "labelExpr": "abs(log(datum.value)/LN10-round(log(datum.value)/LN10))>0.001 ? '' : round(log(datum.value)/LN10)==0 ? '1' : round(log(datum.value)/LN10)==1 ? '10' : round(log(datum.value)/LN10)==2 ? '10²' : round(log(datum.value)/LN10)==-1 ? '10⁻¹' : round(log(datum.value)/LN10)==-2 ? '10⁻²' : round(log(datum.value)/LN10)==-3 ? '10⁻³' : '10⁻⁴'",
      "tickSize": {"condition": {"test": "abs(log(datum.value)/LN10-round(log(datum.value)/LN10))<0.001", "value": -10}, "value": -5},
      "title": "A.U."}}
},
"layer": [
{"data": {"name": "thr"}, "transform": [{"fold": ["a","b","c","d","e"], "as": ["key","val"]}],
 "mark": {"type": "line", "interpolate": "step-after", "strokeWidth": 2.5, "clip": false},
 "encoding": {
   "color": {"field": "key", "type": "nominal", "scale": {"domain": ["a","b","c","d","e"], "range": ["#1fc41f","#ff9a1e","#c8c8c8","#6b6bff","#3399ff"]}, "legend": null},
   "strokeDash": {"field": "key", "type": "nominal", "scale": {"domain": ["a","b","c","d","e"], "range": [[1,0],[1,0],[1,0],[5,3],[16,4,2,4]]}, "legend": null}
 }},
{"data": {"values": [{"x": 0.161, "val": 10.1, "t": "thrust"}]},
 "mark": {"type": "text", "font": "Liberation Serif", "fontSize": 47, "align": "center", "baseline": "alphabetic", "color": "#000"},
 "encoding": {"text": {"field": "t"}}}
]
}
],
"spacing": 104, "bounds": "flush",
"resolve": {"scale": {"color": "independent", "strokeDash": "independent"}, "legend": {"color": "independent", "strokeDash": "independent"}}
}
]
}
